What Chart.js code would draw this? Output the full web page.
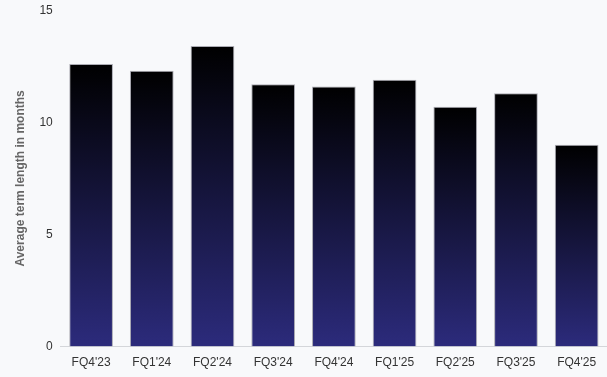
<!DOCTYPE html>
<html>
<head>
<meta charset="utf-8">
<script src="https://cdn.jsdelivr.net/npm/chart.js@4"></script>
<style>
  html, body { margin: 0; padding: 0; background: #f8f9fb; overflow: hidden; }
  #wrap { width: 607px; height: 382px; margin-top: -5px; }
</style>
</head>
<body>
<div id="wrap"><canvas id="chart"></canvas></div>
<script>
// quarters and average term length (months)
const quarters = ["FQ4'23", "FQ1'24", "FQ2'24", "FQ3'24", "FQ4'24", "FQ1'25", "FQ2'25", "FQ3'25", "FQ4'25"];
const termMonths = [12.6, 12.3, 13.4, 11.7, 11.6, 11.9, 10.7, 11.3, 9.0];
const yTicks = [0, 5, 10, 15];

Chart.defaults.font.family = "'Liberation Sans', Arial, sans-serif";

// each bar fades from black at its top to navy at the baseline
function barGradient(ctx) {
    const chart = ctx.chart;
    const y = chart.scales.y;
    if (!y || ctx.type !== 'data') return '#2b2a7a';
    const top = y.getPixelForValue(ctx.raw);
    const bottom = y.getPixelForValue(0);
    if (!isFinite(top) || !isFinite(bottom) || top === bottom) return '#2b2a7a';
    const g = chart.ctx.createLinearGradient(0, top, 0, bottom);
    g.addColorStop(0, '#000000');
    g.addColorStop(1, '#2c2b7c');
    return g;
}

new Chart(document.querySelector('#chart'), {
    type: 'bar',
    data: {
        labels: quarters,
        datasets: [{
            label: 'Average term length in months',
            data: termMonths,
            backgroundColor: barGradient,
            borderColor: 'rgba(140,140,150,0.7)',
            borderWidth: 1,
            barPercentage: 0.8,
            categoryPercentage: 0.9
        }]
    },
    options: {
        responsive: true,
        maintainAspectRatio: false,
        animation: false,
        layout: { padding: { top: 0, right: 0, bottom: -2, left: 13 } },
        plugins: {
            legend: { display: false },
            tooltip: { enabled: false }
        },
        scales: {
            x: {
                grid: { display: false, drawTicks: false },
                border: { color: '#d4d6da', width: 1 },
                ticks: { color: '#333', font: { size: 12 }, padding: 9 }
            },
            y: {
                min: 0,
                max: 15,
                afterBuildTicks: axis => { axis.ticks = yTicks.map(v => ({ value: v })); },
                grid: { display: false, drawTicks: false },
                border: { display: false },
                ticks: { color: '#333', font: { size: 12 }, padding: 8 },
                title: {
                    display: true,
                    text: 'Average term length in months',
                    color: '#666',
                    font: { size: 12, weight: 'bold' },
                    padding: { top: 0, bottom: 4 }
                }
            }
        }
    }
});
</script>
</body>
</html>
